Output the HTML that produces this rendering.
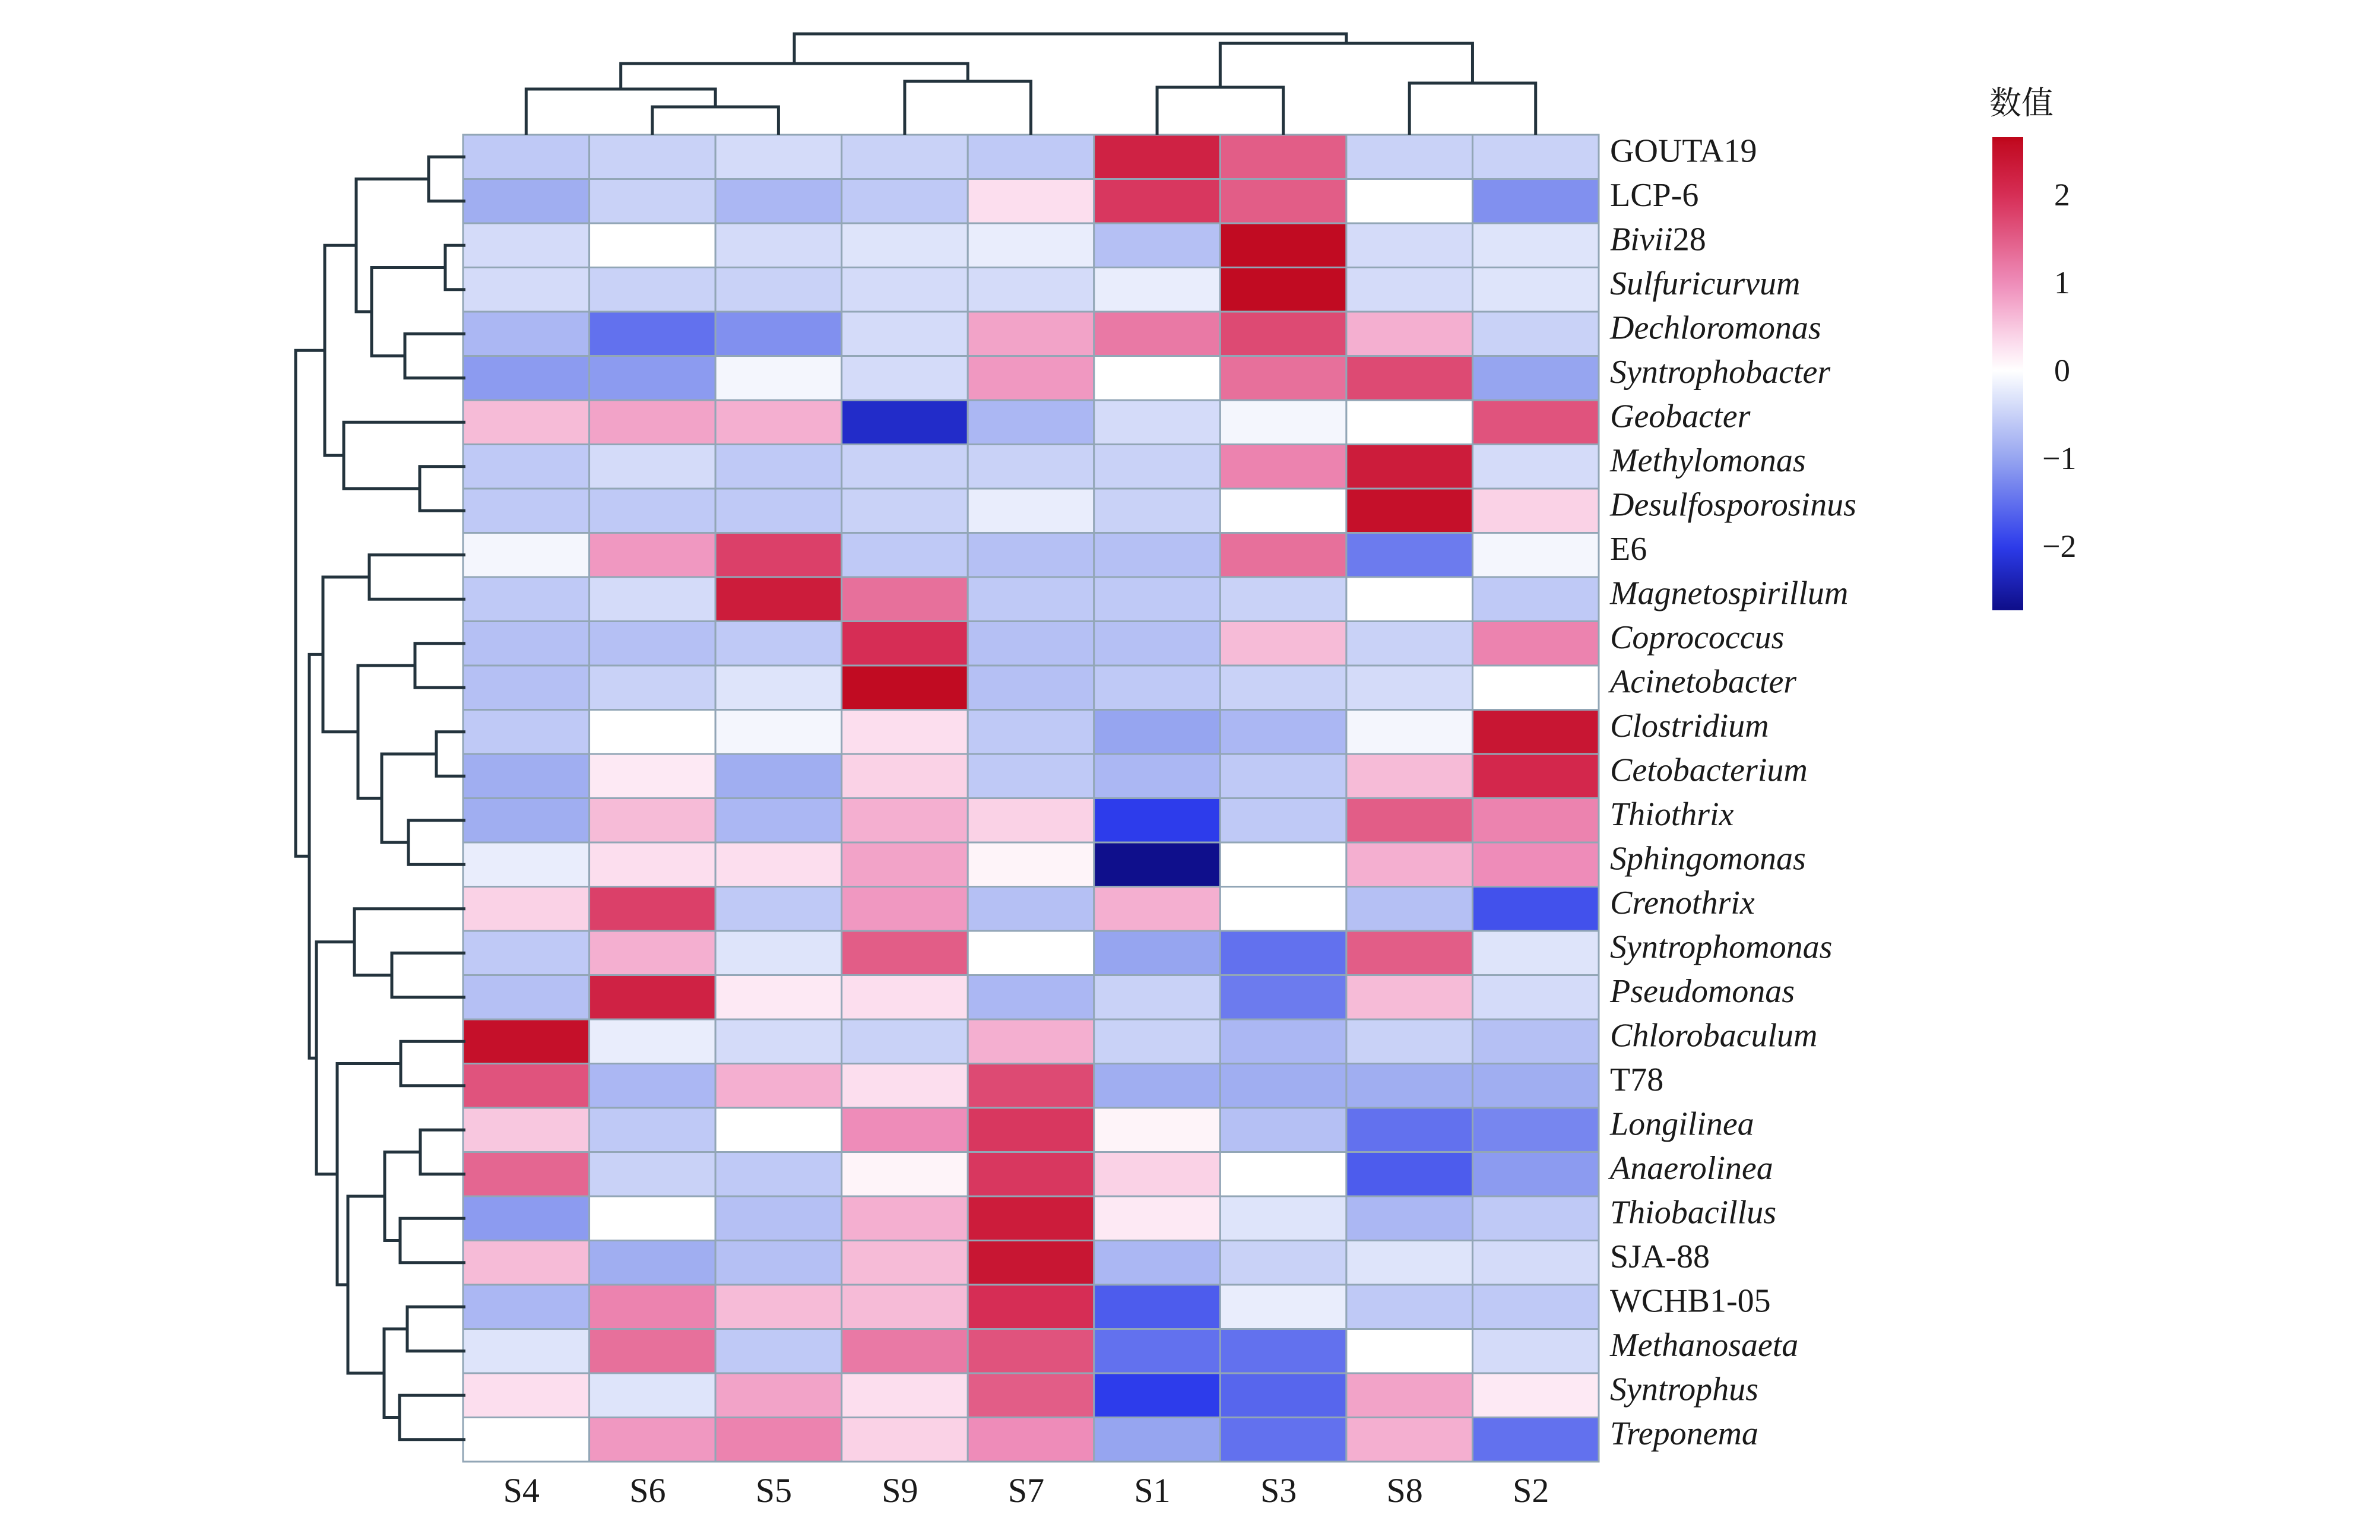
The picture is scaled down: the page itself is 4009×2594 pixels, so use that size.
<!DOCTYPE html>
<html><head><meta charset="utf-8"><style>
html,body{margin:0;padding:0;background:#fff;}
svg{display:block;}
</style></head><body>
<svg id="chart" width="4009" height="2594" viewBox="0 0 4009 2594" xmlns="http://www.w3.org/2000/svg">
<rect width="4009" height="2594" fill="#fff"/>
<g id="cells"></g>
<g id="rowden"></g>
<g id="colden"></g>
<g id="rowlabels"></g>
<g id="collabels"></g>
<g id="legend"></g>
</svg>
<script>
const columns = ["S4","S6","S5","S9","S7","S1","S3","S8","S2"];
const rows = ["GOUTA19","LCP-6","Bivii28","Sulfuricurvum","Dechloromonas","Syntrophobacter","Geobacter","Methylomonas","Desulfosporosinus","E6","Magnetospirillum","Coprococcus","Acinetobacter","Clostridium","Cetobacterium","Thiothrix","Sphingomonas","Crenothrix","Syntrophomonas","Pseudomonas","Chlorobaculum","T78","Longilinea","Anaerolinea","Thiobacillus","SJA-88","WCHB1-05","Methanosaeta","Syntrophus","Treponema"];
const italicRows = [false,false,"partial",true,true,true,true,true,true,false,true,true,true,true,true,true,true,true,true,true,true,false,true,true,true,false,false,true,true,true];
const values = [
[-0.6,-0.5,-0.4,-0.5,-0.6,2.2,1.5,-0.5,-0.5],
[-0.9,-0.5,-0.8,-0.6,0.3,1.9,1.5,0,-1.2],
[-0.4,0,-0.4,-0.3,-0.2,-0.7,2.6,-0.4,-0.3],
[-0.4,-0.5,-0.5,-0.4,-0.4,-0.2,2.6,-0.4,-0.3],
[-0.8,-1.5,-1.2,-0.4,0.8,1.2,1.7,0.7,-0.5],
[-1.1,-1.1,-0.1,-0.4,0.9,0,1.3,1.7,-1.0],
[0.6,0.8,0.7,-2.25,-0.8,-0.4,-0.1,0,1.6],
[-0.6,-0.4,-0.6,-0.5,-0.5,-0.5,1.1,2.3,-0.4],
[-0.6,-0.6,-0.6,-0.5,-0.2,-0.5,0,2.5,0.4],
[-0.1,0.9,1.8,-0.6,-0.7,-0.7,1.3,-1.4,-0.1],
[-0.6,-0.4,2.3,1.3,-0.6,-0.6,-0.5,0,-0.6],
[-0.7,-0.7,-0.6,2.0,-0.7,-0.7,0.6,-0.5,1.1],
[-0.7,-0.5,-0.3,2.6,-0.7,-0.6,-0.5,-0.4,0],
[-0.6,0,-0.1,0.3,-0.6,-1.0,-0.8,-0.1,2.4],
[-0.9,0.2,-0.9,0.4,-0.6,-0.8,-0.6,0.6,2.1],
[-0.9,0.6,-0.8,0.7,0.4,-2.0,-0.6,1.5,1.1],
[-0.2,0.3,0.3,0.8,0.1,-2.7,0,0.7,1.0],
[0.4,1.8,-0.6,0.9,-0.7,0.7,0,-0.7,-1.8],
[-0.6,0.7,-0.3,1.5,0,-1.0,-1.5,1.5,-0.3],
[-0.7,2.2,0.2,0.3,-0.8,-0.5,-1.4,0.6,-0.4],
[2.5,-0.2,-0.4,-0.5,0.7,-0.5,-0.8,-0.5,-0.7],
[1.6,-0.8,0.7,0.3,1.7,-0.9,-0.9,-0.9,-0.9],
[0.5,-0.6,0,1.0,1.9,0.1,-0.7,-1.5,-1.3],
[1.4,-0.5,-0.6,0.1,1.9,0.4,0,-1.7,-1.1],
[-1.1,0,-0.7,0.7,2.3,0.2,-0.3,-0.8,-0.6],
[0.6,-0.9,-0.7,0.6,2.4,-0.8,-0.5,-0.3,-0.4],
[-0.8,1.1,0.6,0.6,2.0,-1.7,-0.2,-0.6,-0.6],
[-0.3,1.3,-0.6,1.2,1.6,-1.5,-1.5,0,-0.4],
[0.3,-0.3,0.8,0.3,1.5,-2.0,-1.6,0.8,0.2],
[0,0.9,1.1,0.4,1.0,-1.0,-1.5,0.7,-1.5]
];
const legendTicks = [2,1,0,-1,-2];
const rowMerges = [
[0,1,62],[2,3,34],[4,5,102],["n1","n2",158],["n0","n3",184],
[7,8,77],[6,"n5",205],["n4","n6",237],
[9,10,162],[11,12,85],[13,14,49],[15,16,96],["n10","n11",141],["n9","n12",181],["n8","n13",240],
[18,19,124],[17,"n15",187],[20,21,109],[22,23,76],[24,25,110],["n18","n19",136],[26,27,98],[28,29,111],["n21","n22",137],["n20","n23",198],["n17","n24",216],["n16","n25",251],
["n14","n26",263],["n7","n27",286]
];
const colMerges = [
[1,2,47],[0,"n0",77],[3,4,90],["n1","n2",120],[5,6,80],[7,8,87],["n4","n5",154],["n3","n6",170]
];

const NS="http://www.w3.org/2000/svg";
const X0=780, X1=2693, Y0=227, Y1=2462;
const cw=(X1-X0)/columns.length, rh=(Y1-Y0)/rows.length;
const xCol=i=>X0+cw*i, yRow=i=>Y0+rh*i;
const VMIN=-2.7, VMAX=2.7;
const stops=[[-2.7,[15,15,140]],[-2,[45,60,235]],[-1,[150,165,240]],[-0.3,[222,228,250]],[0,[255,255,255]],[0.3,[252,222,238]],[1,[238,140,185]],[2,[214,45,85]],[2.7,[190,5,25]]];
function color(v){
  v=Math.max(VMIN,Math.min(VMAX,v));
  for(let i=0;i<stops.length-1;i++){const a=stops[i],b=stops[i+1];
    if(v>=a[0]&&v<=b[0]){const t=(v-a[0])/(b[0]-a[0]);const c=a[1].map((x,k)=>Math.round(x+(b[1][k]-x)*t));return `rgb(${c[0]},${c[1]},${c[2]})`;}}
  return "#fff";
}
function mk(tag,attrs,parent){const e=document.createElementNS(NS,tag);for(const k in attrs)e.setAttribute(k,attrs[k]);parent.appendChild(e);return e;}

const gc=document.getElementById('cells');
values.forEach((row,r)=>row.forEach((v,c)=>{
  const e=mk('rect',{x:xCol(c),y:yRow(r),width:cw,height:rh,fill:color(v),stroke:'#92a6b6','stroke-width':3},gc);
  
  
}));

const gr=document.getElementById('rowden');
const HS=1.0;
function dendro(merges,leafPos,baseLine,horizontal,g,name){
  const pos=[],ht=[];
  function info(ch){if(typeof ch==='string'){const k=+ch.slice(1);return [pos[k],ht[k]];}return [leafPos(ch),0];}
  merges.forEach((m,k)=>{
    const [pa,ha]=info(m[0]),[pb,hb]=info(m[1]);const h=m[2];
    pos[k]=(pa+pb)/2;ht[k]=h;
    let d;
    if(horizontal){const xh=baseLine-h*HS;
      d=`M${baseLine-ha*HS},${pa}H${xh}V${pb}H${baseLine-hb*HS}`;}
    else{const yh=baseLine-h*HS;
      d=`M${pa},${baseLine-ha*HS}V${yh}H${pb}V${baseLine-hb*HS}`;}
    const e=mk('path',{d:d,fill:'none',stroke:'#23333d','stroke-width':5},g);
    
    
  });
}
dendro(rowMerges,i=>yRow(i)+rh/2,X0+4,true,gr,'row-dendrogram');
dendro(colMerges,i=>xCol(i)+cw/2,Y0,false,document.getElementById('colden'),'column-dendrogram');

const gl=document.getElementById('rowlabels');
rows.forEach((n,r)=>{
  const t=mk('text',{x:2712,y:yRow(r)+rh/2+8,'font-family':'"Liberation Serif",serif','font-size':56,fill:'#1a1a1a'},gl);
  
  
  if(italicRows[r]==='partial'){const s=mk('tspan',{'font-style':'italic'},t);s.textContent='Bivii';const s2=mk('tspan',{},t);s2.textContent='28';}
  else{if(italicRows[r])t.setAttribute('font-style','italic');t.textContent=n;}
});
const gx=document.getElementById('collabels');
columns.forEach((n,c)=>{
  const t=mk('text',{x:xCol(c)+cw/2-8,y:2530,'text-anchor':'middle','font-family':'"Liberation Serif",serif','font-size':58,fill:'#1a1a1a'},gx);
  
  
  t.textContent=n;
});

const lg=document.getElementById('legend');
const LX=3356,LW=52,LT=231,LB=1028;
const ly=v=>624-v*148;
const defs=mk('defs',{},lg);
const grad=mk('linearGradient',{id:'lgd',x1:0,y1:0,x2:0,y2:1},defs);
for(let i=0;i<=40;i++){const v=VMAX-(VMAX-VMIN)*i/40;mk('stop',{offset:(ly(v)-LT)/(LB-LT),'stop-color':color(v)},grad);}
const bar=mk('rect',{x:LX,y:LT,width:LW,height:LB-LT,fill:'url(#lgd)'},lg);


const title=mk('text',{x:3405,y:192,'text-anchor':'middle','font-family':'"Liberation Serif","Noto Serif CJK SC",serif','font-size':54,fill:'#1a1a1a'},lg);


title.textContent='数值';
legendTicks.forEach(v=>{
  const t=mk('text',{x:v<0?3440:3460,y:ly(v)+18,'font-family':'"Liberation Serif",serif','font-size':54,fill:'#1a1a1a'},lg);
  
  
  t.textContent=v<0?'\u2212'+(-v):String(v);
});
</script>
</body></html>
